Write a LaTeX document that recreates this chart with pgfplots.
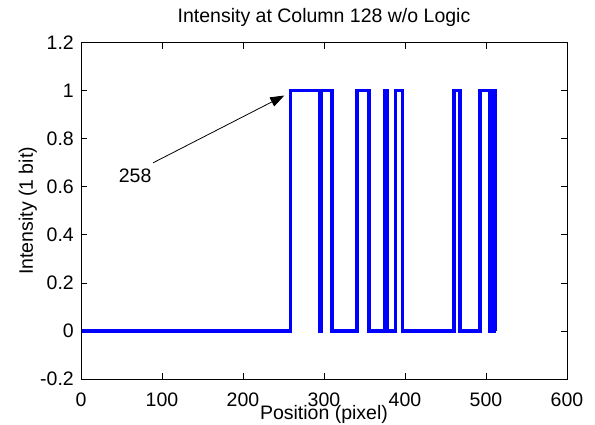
\documentclass[border=0pt]{standalone}
\usepackage{pgfplots}
\pgfplotsset{compat=1.18}
\usepackage{fontspec}
\setmainfont{Liberation Sans}
\usetikzlibrary{arrows.meta}
\newcommand{\ff}{\fontsize{19.5bp}{23bp}\selectfont}
\begin{document}
\begin{tikzpicture}
\path[use as bounding box] (-81bp,-46bp) rectangle (514bp,379bp);
\begin{axis}[
  at={(0,0)}, anchor=south west,
  scale only axis, width=486bp, height=336.3bp,
  xmin=0, xmax=600, ymin=-0.2, ymax=1.2,
  xtick={0,100,200,300,400,500,600},
  xticklabels={0,100,200,300,400,500,600},
  ytick={-0.2,0,0.2,0.4,0.6,0.8,1,1.2},
  yticklabels={-0.2,0,0.2,0.4,0.6,0.8,1,1.2},
  tick align=inside,
  major tick length=6bp,
  axis line style={line width=0.8bp},
  every tick/.style={black, line width=0.8bp},
  tick label style={font=\ff},
  xticklabel style={yshift=-10bp},
  yticklabel style={xshift=-3.7bp},
  title={Intensity at Column 128 w/o Logic},
  title style={font=\ff, at={(axis description cs:0.5,1)}, anchor=base, yshift=14.7bp},
  xlabel={Position (pixel)},
  xlabel style={font=\ff, at={(axis description cs:0.5,0)}, anchor=base, yshift=-40bp},
  ylabel={Intensity (1 bit)},
  ylabel style={font=\ff, at={(axis description cs:-0.0988,0.5)}, anchor=base},
  clip=false,
]
\addplot[color={rgb,255:red,0;green,0;blue,255}, line width=3.5bp, sharp plot] coordinates {
(1,0)(258.5,0)(258.5,1)(295,1)(295,0)(296.5,0)(296.5,1)(310,1)(310,0)
(341,0)(341,1)(355.5,1)(355.5,0)(374.4,0)(374.4,1)(376,1)(376,0)(377,0)(377,1)
(378.6,1)(378.6,0)(388.5,0)(388.5,1)(396.7,1)(396.7,0)(460.6,0)(460.6,1)(468,1)(468,0)
(492.5,0)(492.5,1)(504.4,1)(504.4,0)(505.5,0)(505.5,1)(507,1)(507,0)(508,0)(508,1)
(509.5,1)(509.5,0)(510.5,0)(510.5,1)(511,1)(511,0)(512,0)
};
\draw[black, line width=0.8bp, -{Triangle[length=14bp,width=10bp]}] (axis cs:89,0.70) -- (axis cs:251,0.98);
\node[font=\ff] at (axis cs:66.8,0.648) {258};
\end{axis}
\end{tikzpicture}
\end{document}
